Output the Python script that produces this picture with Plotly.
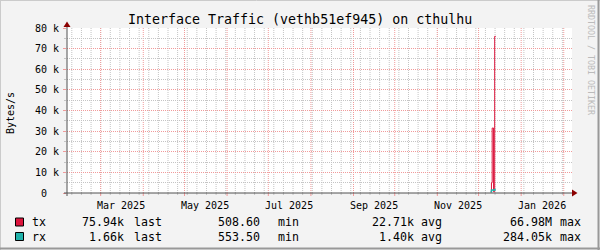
import pandas as pd
import plotly.graph_objects as go

# ---------------- data ----------------
tx_time = ["2025-12-09 18:00", "2025-12-10 09:00", "2025-12-10 22:00",
           "2025-12-11 22:00", "2025-12-12 18:00", "2025-12-13 12:00"]
tx_bytes = [500, 5000, 31500, 600, 75940, 75940]

rx_time = ["2025-12-09 18:00", "2025-12-10 09:00", "2025-12-10 22:00",
           "2025-12-11 22:00", "2025-12-12 18:00", "2025-12-13 12:00"]
rx_bytes = [560, 1400, 1500, 1300, 1660, 1660]

y_tickvals = [0, 10000, 20000, 30000, 40000, 50000, 60000, 70000, 80000]
y_ticktext = ["0\u00a0\u00a0", "10 k", "20 k", "30 k", "40 k", "50 k", "60 k", "70 k", "80 k"]

label_dates = ["2025-03-16", "2025-05-16", "2025-07-16", "2025-09-16", "2025-11-16", "2026-01-16"]
label_text = ["Mar 2025", "May 2025", "Jul 2025", "Sep 2025", "Nov 2025", "Jan 2026"]

x_range = ["2025-02-04 12:00", "2026-02-07 00:00"]
y_range = [0, 80000]

series_names = ["tx", "rx"]
series_colors = ["#DC143C", "#20B2AA"]
legend_last = ["75.94k", "1.66k"]
legend_min = ["508.60", "553.50"]
legend_avg = ["22.71k", "1.40k"]
legend_max = ["66.98M", "284.05k"]

title_text = "Interface Traffic (vethb51ef945) on cthulhu"
y_title = "Bytes/s"
watermark = "RRDTOOL / TOBI OETIKER"

# ---------------- layout helpers ----------------
W, H = 600, 250
L, R, T, B = 67, 572, 28, 193
FONT = "DejaVu Sans Mono"
MAJ = "#F19A9A"
MIN = "#C4C4C4"

month_lines = pd.date_range("2025-03-01", "2026-02-01", freq="MS")
week_lines = pd.date_range("2025-02-08", "2026-02-06", freq="7D")


def px(x):
    return (x - L) / (R - L)


def py(y):
    return (B - y) / (B - T)


fig = go.Figure()
fig.add_trace(go.Scatter(x=tx_time, y=tx_bytes, mode="lines", line=dict(color=series_colors[0], width=1, shape="hv"),
                         name=series_names[0], hoverinfo="skip"))
fig.add_trace(go.Scatter(x=rx_time, y=rx_bytes, mode="lines", line=dict(color=series_colors[1], width=1.5, shape="hv"),
                         name=series_names[1], hoverinfo="skip"))

fig.update_layout(
    width=W, height=H,
    margin=dict(l=L, r=W - R, t=T, b=H - B, pad=0),
    paper_bgcolor="#F3F3F3", plot_bgcolor="#FFFFFF",
    showlegend=False,
    font=dict(family=FONT, size=10, color="#000000"),
    xaxis=dict(
        type="date", range=x_range, automargin=False,
        showticklabels=False, showgrid=False, ticks="",
        zeroline=False, showline=False, fixedrange=True,
    ),
    yaxis=dict(
        range=y_range, automargin=False,
        tickmode="array", tickvals=y_tickvals, ticktext=y_ticktext,
        tickfont=dict(family=FONT, size=10, color="#000000"), ticklabelstandoff=2,
        showgrid=True, gridcolor=MAJ, griddash="1px,1px", gridwidth=1,
        ticks="outside", ticklen=3, tickcolor=MAJ,
        minor=dict(dtick=5000, showgrid=True, gridcolor=MIN, griddash="1px,1px",
                   ticks="outside", ticklen=2, tickcolor=MIN),
        zeroline=False, showline=False, fixedrange=True,
    ),
)

shapes = []
# vertical grid: weekly (grey) and monthly (red), placed through the date axis
for d in week_lines:
    shapes.append(dict(type="line", xref="x", yref="paper", x0=d, x1=d, y0=0, y1=1, layer="between",
                       line=dict(color=MIN, width=1, dash="1px,1px")))
    shapes.append(dict(type="line", xref="x", yref="paper", x0=d, x1=d, y0=0, y1=py(195), layer="between",
                       line=dict(color=MIN, width=1)))
for d in month_lines:
    shapes.append(dict(type="line", xref="x", yref="paper", x0=d, x1=d, y0=0, y1=1, layer="between",
                       line=dict(color=MAJ, width=1, dash="1px,1px")))
    shapes.append(dict(type="line", xref="x", yref="paper", x0=d, x1=d, y0=0, y1=py(196), layer="between",
                       line=dict(color=MAJ, width=1)))
# outer shading border
shapes.append(dict(type="line", xref="paper", yref="paper", x0=px(0), x1=px(600), y0=py(0.5), y1=py(0.5),
                   line=dict(color="#CBCBCB", width=1)))
shapes.append(dict(type="line", xref="paper", yref="paper", x0=px(0.5), x1=px(0.5), y0=py(0), y1=py(250),
                   line=dict(color="#CBCBCB", width=1)))
shapes.append(dict(type="line", xref="paper", yref="paper", x0=px(0), x1=px(600), y0=py(248.5), y1=py(248.5),
                   line=dict(color="#999999", width=2)))
shapes.append(dict(type="line", xref="paper", yref="paper", x0=px(598.5), x1=px(598.5), y0=py(0), y1=py(250),
                   line=dict(color="#999999", width=2)))
# axes
AX = "#505050"
shapes.append(dict(type="line", xref="paper", yref="paper", x0=px(64), x1=px(573), y0=py(193), y1=py(193),
                   line=dict(color=AX, width=1), layer="above"))
shapes.append(dict(type="line", xref="paper", yref="paper", x0=px(67), x1=px(67), y0=py(196), y1=py(25),
                   line=dict(color=AX, width=1), layer="above"))
ARW = "#8B0000"
shapes.append(dict(type="path", xref="paper", yref="paper",
                   path=f"M {px(572)},{py(189.5)} L {px(577.5)},{py(193)} L {px(572)},{py(196.5)} Z",
                   fillcolor=ARW, line=dict(color=ARW, width=0), layer="above"))
shapes.append(dict(type="path", xref="paper", yref="paper",
                   path=f"M {px(63.5)},{py(27)} L {px(67)},{py(21.5)} L {px(70.5)},{py(27)} Z",
                   fillcolor=ARW, line=dict(color=ARW, width=0), layer="above"))
# legend swatches
row_y = [222, 236.5]
for i, c in enumerate(series_colors):
    shapes.append(dict(type="rect", xref="paper", yref="paper", x0=px(15.5), x1=px(23.5),
                       y0=py(row_y[i] - 4), y1=py(row_y[i] + 4),
                       fillcolor=c, line=dict(color="#000000", width=1)))
fig.update_layout(shapes=shapes)

ann = []
# x-axis labels, placed through the date axis
for d, t in zip(label_dates, label_text):
    ann.append(dict(text=t, x=d, y=py(205.5), xref="x", yref="paper", showarrow=False,
                    xanchor="center", yanchor="middle", font=dict(family=FONT, size=10, color="#000000")))
ann.append(dict(text=title_text, x=px(300), y=py(19.5), xref="paper", yref="paper", showarrow=False,
                xanchor="center", yanchor="middle", font=dict(family=FONT, size=13.3, color="#000000")))
ann.append(dict(text=y_title, x=px(10), y=py(113), xref="paper", yref="paper", showarrow=False,
                textangle=-90, xanchor="center", yanchor="middle", font=dict(family=FONT, size=10, color="#000000")))
ann.append(dict(text=watermark, x=px(591), y=py(60), xref="paper", yref="paper", showarrow=False,
                textangle=90, xanchor="center", yanchor="middle", font=dict(family=FONT, size=8.3, color="#BBBBBB")))
LF = dict(family=FONT, size=11.6, color="#000000")
cols = [
    (series_names, 30, "left"),
    (legend_last, 126, "right"), (["last"] * 2, 131.5, "left"),
    (legend_min, 262, "right"), (["min"] * 2, 275.5, "left"),
    (legend_avg, 416, "right"), (["avg"] * 2, 419, "left"),
    (legend_max, 554, "right"), (["max"] * 2, 558, "left"),
]
for vals, xp, anc in cols:
    for i, v in enumerate(vals):
        ann.append(dict(text=v, x=px(xp), y=py(row_y[i]), xref="paper", yref="paper", showarrow=False,
                        xanchor=anc, yanchor="middle", font=LF))
fig.update_layout(annotations=ann)

fig.write_html("out.html")
